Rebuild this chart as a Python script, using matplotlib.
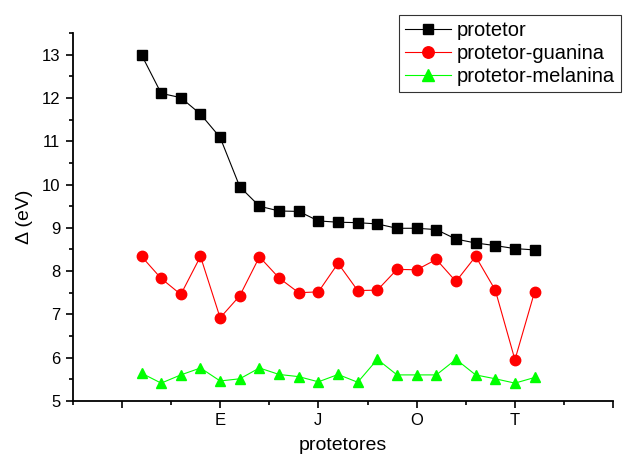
import matplotlib
matplotlib.use("Agg")
import matplotlib.pyplot as plt
from matplotlib.ticker import MultipleLocator

plt.rcParams["font.family"] = ["Liberation Sans", "DejaVu Sans"]

categories = list("ABCDEFGHIJKLMNOPQRSTU")
protetor = [13.00, 12.11, 12.01, 11.63, 11.09, 9.95, 9.50, 9.39, 9.38, 9.16,
            9.13, 9.12, 9.09, 8.99, 8.99, 8.96, 8.74, 8.65, 8.59, 8.52, 8.49]
guanina = [8.34, 7.83, 7.46, 8.34, 6.92, 7.43, 8.33, 7.84, 7.50, 7.52,
           8.18, 7.55, 7.56, 8.04, 8.03, 8.27, 7.76, 8.34, 7.56, 5.95, 7.52]
melanina = [5.64, 5.41, 5.60, 5.76, 5.46, 5.51, 5.76, 5.61, 5.56, 5.44,
            5.61, 5.43, 5.96, 5.60, 5.60, 5.60, 5.96, 5.60, 5.51, 5.41, 5.54]
tick_pos = [0, 5, 10, 15, 20, 25]
tick_labels = ["", "E", "J", "O", "T", ""]

x = list(range(1, len(categories) + 1))

fig = plt.figure(figsize=(6.27, 4.55), dpi=100)
ax = fig.add_axes([0.116, 0.119, 0.862, 0.808])

ax.plot(x, protetor, color="black", marker="s", markersize=6.5, lw=0.8,
        label="protetor")
ax.plot(x, guanina, color="#ff0000", marker="o", markersize=7.5, lw=0.8,
        label="protetor-guanina")
ax.plot(x, melanina, color="#00ff00", marker="^", markersize=7.5, lw=0.8,
        label="protetor-melanina")

ax.set_xlim(-2.5, 25)
ax.set_ylim(5, 13.5)
ax.set_xticks(tick_pos)
ax.set_xticklabels(tick_labels)
ax.xaxis.set_minor_locator(MultipleLocator(2.5))
ax.yaxis.set_major_locator(MultipleLocator(1))
ax.yaxis.set_minor_locator(MultipleLocator(0.5))

for side in ("top", "right"):
    ax.spines[side].set_visible(False)
for side in ("left", "bottom"):
    ax.spines[side].set_linewidth(1.3)
ax.tick_params(which="major", direction="out", length=5, width=1.2,
               labelsize=12, pad=4)
ax.tick_params(which="minor", direction="out", length=3, width=1.2)

ax.set_xlabel("protetores", fontsize=14, labelpad=6)
ax.set_ylabel("Δ (eV)", fontsize=14, labelpad=6)

leg = fig.legend(loc="upper left", bbox_to_anchor=(0.636, 0.968),
                 fontsize=14.5, frameon=True, fancybox=False,
                 edgecolor="black", handlelength=2.3, borderpad=0.3,
                 labelspacing=0.2, handletextpad=0.3, borderaxespad=0,
                 markerscale=1.1)
leg.get_frame().set_linewidth(0.8)

fig.savefig("out.png", dpi=100)
